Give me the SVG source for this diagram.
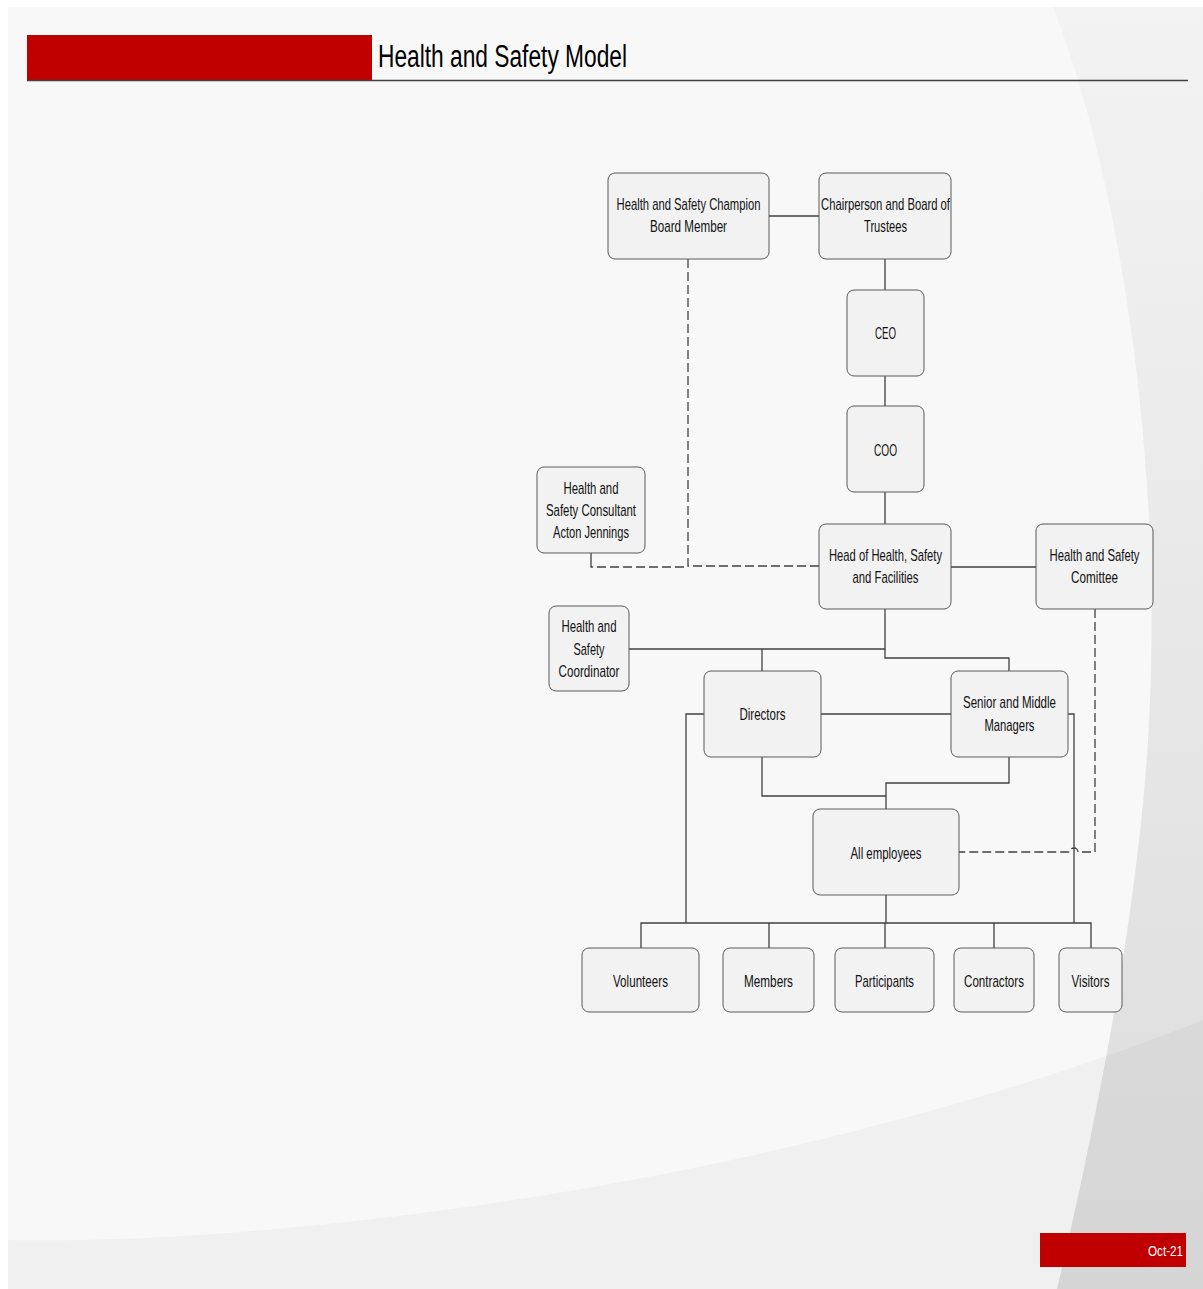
<svg xmlns="http://www.w3.org/2000/svg" width="1203" height="1289" viewBox="0 0 1203 1289">
<style>
.node rect{fill:#f2f2f2;stroke:#5a5a5a;stroke-width:1}
.node text{font-family:"Liberation Sans",Arial,sans-serif;font-size:17px;fill:#111111;text-anchor:middle}
.conn path{fill:none;stroke:#404040;stroke-width:1.3}
.conn .dash{stroke-dasharray:9 4}
</style>
<defs>
<linearGradient id="rg" x1="0" y1="0" x2="0" y2="1">
<stop offset="0" stop-color="#f3f3f3"/>
<stop offset="1" stop-color="#dcdcdc"/>
</linearGradient>
</defs>
<g id="background">
<rect x="0" y="0" width="1203" height="1289" fill="#ffffff"/>
<rect x="8" y="7" width="1195" height="1282" fill="#f8f8f8"/>
<path d="M1053 7 C1120 180 1160 450 1150 700 C1143 900 1090 1150 1057 1289 L1203 1289 L1203 7 Z" fill="url(#rg)"/>
<path d="M8 1240 C300 1245 800 1180 1203 1020 L1203 1289 L8 1289 Z" fill="#000" fill-opacity="0.032"/>
</g>
<g id="header">
<rect x="27" y="35" width="345" height="45" fill="#c00000"/>
<line x1="27" y1="80.5" x2="1188" y2="80.5" stroke="#404040" stroke-width="1.5"/>
<text x="378" y="67" font-family="'Liberation Sans',Arial,sans-serif" font-size="31" fill="#000" textLength="249" lengthAdjust="spacingAndGlyphs">Health and Safety Model</text>
</g>
<g id="footer">
<rect x="1040" y="1233" width="146" height="34" fill="#c00000"/>
<text x="1183" y="1256" font-family="'Liberation Sans',Arial,sans-serif" font-size="15" fill="#ffffff" text-anchor="end" textLength="35" lengthAdjust="spacingAndGlyphs">Oct-21</text>
</g>
<g id="connectors" class="conn">
<path d="M769 216 H819"/>
<path d="M885 259 V290"/>
<path d="M885 376 V406"/>
<path d="M885 492 V524"/>
<path d="M951 567 H1036"/>
<path class="dash" d="M688 259 V566 H819"/>
<path d="M591 553 V560"/>
<path class="dash" d="M591 560 V567 H688"/>
<path d="M885 609 V649 H629"/>
<path d="M762 649 V671"/>
<path d="M885 649 V658 H1009 V671"/>
<path d="M821 714 H951"/>
<path d="M704 714 H686 V923"/>
<path d="M1068 714 H1074 V923"/>
<path d="M762 757 V796 H886"/>
<path d="M1009 757 V783 H886 V809"/>
<path d="M886 895 V923"/>
<path d="M641 948 V923 H1091 V948"/>
<path d="M769 923 V948"/>
<path d="M885 923 V948"/>
<path d="M994 923 V948"/>
<path class="dash" d="M1095 609 V852 H1078 A4 4 0 0 0 1070 852 H959"/>
</g>
<g id="n-champion" class="node">
<rect x="608" y="173" width="161" height="86" rx="7"/>
<text x="688.5" y="210" textLength="144" lengthAdjust="spacingAndGlyphs">Health and Safety Champion</text>
<text x="688.5" y="232" textLength="77" lengthAdjust="spacingAndGlyphs">Board Member</text>
</g>
<g id="n-chair" class="node">
<rect x="819" y="173" width="132" height="86" rx="7"/>
<text x="885.5" y="210" textLength="129" lengthAdjust="spacingAndGlyphs">Chairperson and Board of</text>
<text x="885.5" y="232" textLength="43" lengthAdjust="spacingAndGlyphs">Trustees</text>
</g>
<g id="n-ceo" class="node">
<rect x="847" y="290" width="77" height="86" rx="7"/>
<text x="885.5" y="339" textLength="21" lengthAdjust="spacingAndGlyphs">CEO</text>
</g>
<g id="n-coo" class="node">
<rect x="847" y="406" width="77" height="86" rx="7"/>
<text x="885.5" y="456" textLength="23" lengthAdjust="spacingAndGlyphs">COO</text>
</g>
<g id="n-consultant" class="node">
<rect x="537" y="467" width="108" height="86" rx="7"/>
<text x="591" y="494" textLength="55" lengthAdjust="spacingAndGlyphs">Health and</text>
<text x="591" y="516" textLength="90" lengthAdjust="spacingAndGlyphs">Safety Consultant</text>
<text x="591" y="538" textLength="76" lengthAdjust="spacingAndGlyphs">Acton Jennings</text>
</g>
<g id="n-head" class="node">
<rect x="819" y="524" width="132" height="85" rx="7"/>
<text x="885.5" y="561" textLength="113" lengthAdjust="spacingAndGlyphs">Head of Health, Safety</text>
<text x="885.5" y="583" textLength="66" lengthAdjust="spacingAndGlyphs">and Facilities</text>
</g>
<g id="n-committee" class="node">
<rect x="1036" y="524" width="117" height="85" rx="7"/>
<text x="1094.5" y="561" textLength="90" lengthAdjust="spacingAndGlyphs">Health and Safety</text>
<text x="1094.5" y="583" textLength="47" lengthAdjust="spacingAndGlyphs">Comittee</text>
</g>
<g id="n-coordinator" class="node">
<rect x="549" y="606" width="80" height="85" rx="7"/>
<text x="589" y="632" textLength="55" lengthAdjust="spacingAndGlyphs">Health and</text>
<text x="589" y="655" textLength="31" lengthAdjust="spacingAndGlyphs">Safety</text>
<text x="589" y="677" textLength="61" lengthAdjust="spacingAndGlyphs">Coordinator</text>
</g>
<g id="n-directors" class="node">
<rect x="704" y="671" width="117" height="86" rx="7"/>
<text x="762.5" y="720" textLength="46" lengthAdjust="spacingAndGlyphs">Directors</text>
</g>
<g id="n-managers" class="node">
<rect x="951" y="671" width="117" height="86" rx="7"/>
<text x="1009.5" y="708" textLength="93" lengthAdjust="spacingAndGlyphs">Senior and Middle</text>
<text x="1009.5" y="731" textLength="50" lengthAdjust="spacingAndGlyphs">Managers</text>
</g>
<g id="n-employees" class="node">
<rect x="813" y="809" width="146" height="86" rx="7"/>
<text x="886" y="859" textLength="71" lengthAdjust="spacingAndGlyphs">All employees</text>
</g>
<g id="n-volunteers" class="node">
<rect x="582" y="948" width="117" height="64" rx="7"/>
<text x="640.5" y="987" textLength="55" lengthAdjust="spacingAndGlyphs">Volunteers</text>
</g>
<g id="n-members" class="node">
<rect x="723" y="948" width="91" height="64" rx="7"/>
<text x="768.5" y="987" textLength="49" lengthAdjust="spacingAndGlyphs">Members</text>
</g>
<g id="n-participants" class="node">
<rect x="835" y="948" width="99" height="64" rx="7"/>
<text x="884.5" y="987" textLength="59" lengthAdjust="spacingAndGlyphs">Participants</text>
</g>
<g id="n-contractors" class="node">
<rect x="954" y="948" width="80" height="64" rx="7"/>
<text x="994" y="987" textLength="60" lengthAdjust="spacingAndGlyphs">Contractors</text>
</g>
<g id="n-visitors" class="node">
<rect x="1059" y="948" width="63" height="64" rx="7"/>
<text x="1090.5" y="987" textLength="38" lengthAdjust="spacingAndGlyphs">Visitors</text>
</g>
</svg>
